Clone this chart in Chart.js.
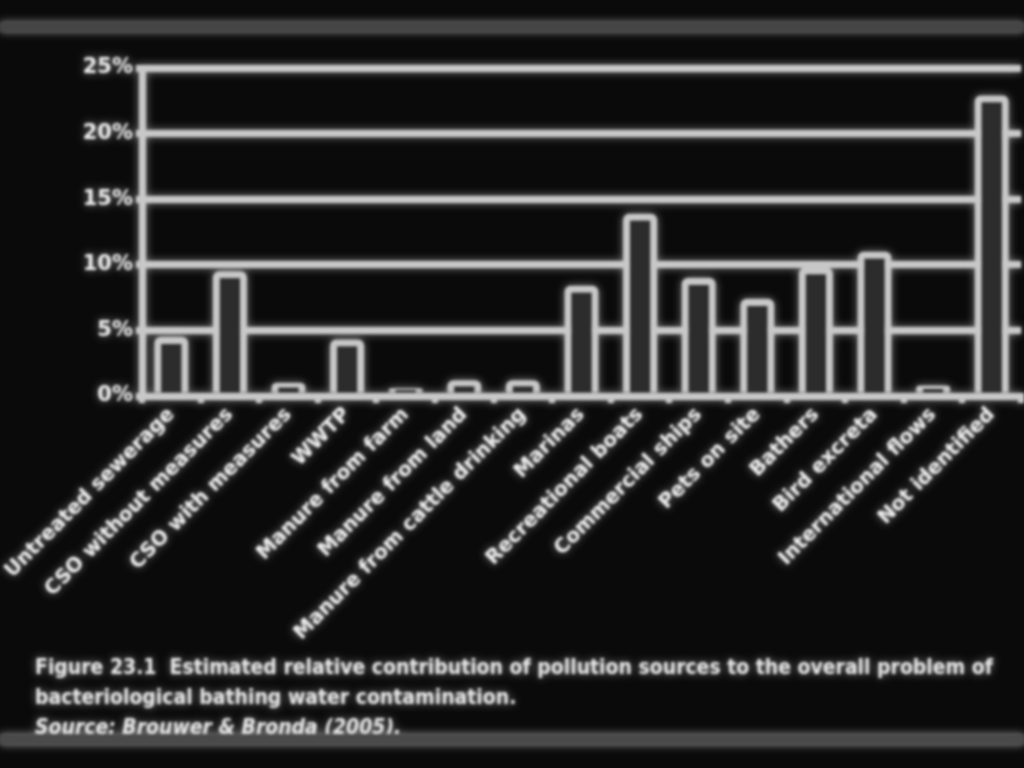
<!DOCTYPE html>
<html>
<head>
<meta charset="utf-8">
<script src="https://cdn.jsdelivr.net/npm/chart.js@4.4.1/dist/chart.umd.min.js"></script>
<style>
  html, body { margin:0; padding:0; background:#0a0a0a; width:1024px; height:768px; overflow:hidden; }
  #wrap { position:absolute; left:0; top:0; width:1024px; height:768px; filter: blur(1.7px) drop-shadow(0 0 4px rgba(255,255,255,0.5)); }
  #topbar { position:absolute; left:0; top:22px; width:1024px; height:10px; background:#454545; }
  #botbar { position:absolute; left:0; top:734px; width:1024px; height:11px; background:#4a4a4a; }
  #chartbox { position:absolute; left:0; top:0; width:1024px; height:640px; }
  #caption { position:absolute; left:35px; top:652px; color:#e8e8e8; transform-origin: 0 0;
             font-family:"DejaVu Sans", sans-serif; font-weight:bold; font-size:22px; line-height:30px; white-space:nowrap; }
  #caption div { display:block; }
  #caption .src { font-style:italic; }
</style>
</head>
<body>
<div id="wrap">
  <div id="topbar"></div>
  <div id="chartbox"><canvas id="c" width="1024" height="640"></canvas></div>
  <div id="caption">
    <div id="cap1">Figure 23.1&nbsp; Estimated relative contribution of pollution sources to the overall problem of</div>
    <div>bacteriological bathing water contamination.</div>
    <div class="src">Source: Brouwer &amp; Bronda (2005).</div>
  </div>
  <div id="botbar"></div>
</div>
<script>
const categories = [
  "Untreated sewerage",
  "CSO without measures",
  "CSO with measures",
  "WWTP",
  "Manure from farm",
  "Manure from land",
  "Manure from cattle drinking",
  "Marinas",
  "Recreational boats",
  "Commercial ships",
  "Pets on site",
  "Bathers",
  "Bird excreta",
  "International flows",
  "Not identified"
];
const shares = [4.5, 9.5, 1.0, 4.3, 0.6, 1.2, 1.2, 8.4, 13.9, 9.0, 7.4, 9.8, 11.0, 0.8, 22.9];
const yTicks = [0, 5, 10, 15, 20, 25];

const LINE = '#c8c8c8';
const TEXT = '#efefef';
const FONT = '"DejaVu Sans", "Liberation Sans", sans-serif';

// fit caption width to the reference span
(function () {
  const cap = document.getElementById('caption');
  const line = document.getElementById('cap1');
  const r = document.createRange(); r.selectNodeContents(line);
  const w = r.getBoundingClientRect().width;
  if (w > 0) cap.style.transform = 'scaleX(' + (958 / w) + ')';
})();

new Chart(document.getElementById('c'), {
  type: 'bar',
  data: {
    labels: categories,
    datasets: [{
      data: shares,
      backgroundColor: '#2c2c2c',
      borderColor: LINE,
      borderWidth: 7,
      borderSkipped: 'bottom',
      borderRadius: { topLeft: 6, topRight: 6 },
      barPercentage: 0.58,
      categoryPercentage: 1.0
    }]
  },
  options: {
    responsive: false,
    animation: false,
    layout: { padding: { left: 0, right: 3, top: 68, bottom: 0 } },
    plugins: { legend: { display: false }, tooltip: { enabled: false } },
    scales: {
      x: {
        offset: true,
        grid: { display: true, drawOnChartArea: false, drawTicks: true, tickLength: 7, color: LINE, lineWidth: 6, offset: true },
        border: { display: true, color: LINE, width: 7 },
        ticks: {
          color: TEXT, autoSkip: false, maxRotation: 45, minRotation: 45, padding: 0,
          font: { family: FONT, size: 20, weight: 'bold' }
        },
        afterFit(scale) { scale.height = 640 - 396; }
      },
      y: {
        min: 0, max: 25,
        afterBuildTicks(scale) { scale.ticks = yTicks.map(v => ({ value: v })); },
        grid: { color: LINE, lineWidth: 7, tickLength: 6, drawTicks: true },
        border: { display: true, color: LINE, width: 7 },
        ticks: {
          color: TEXT, padding: 3,
          font: { family: FONT, size: 21, weight: 'bold' },
          callback: v => v + '%'
        },
        afterFit(scale) { scale.width = 142; }
      }
    }
  }
});
</script>
</body>
</html>
